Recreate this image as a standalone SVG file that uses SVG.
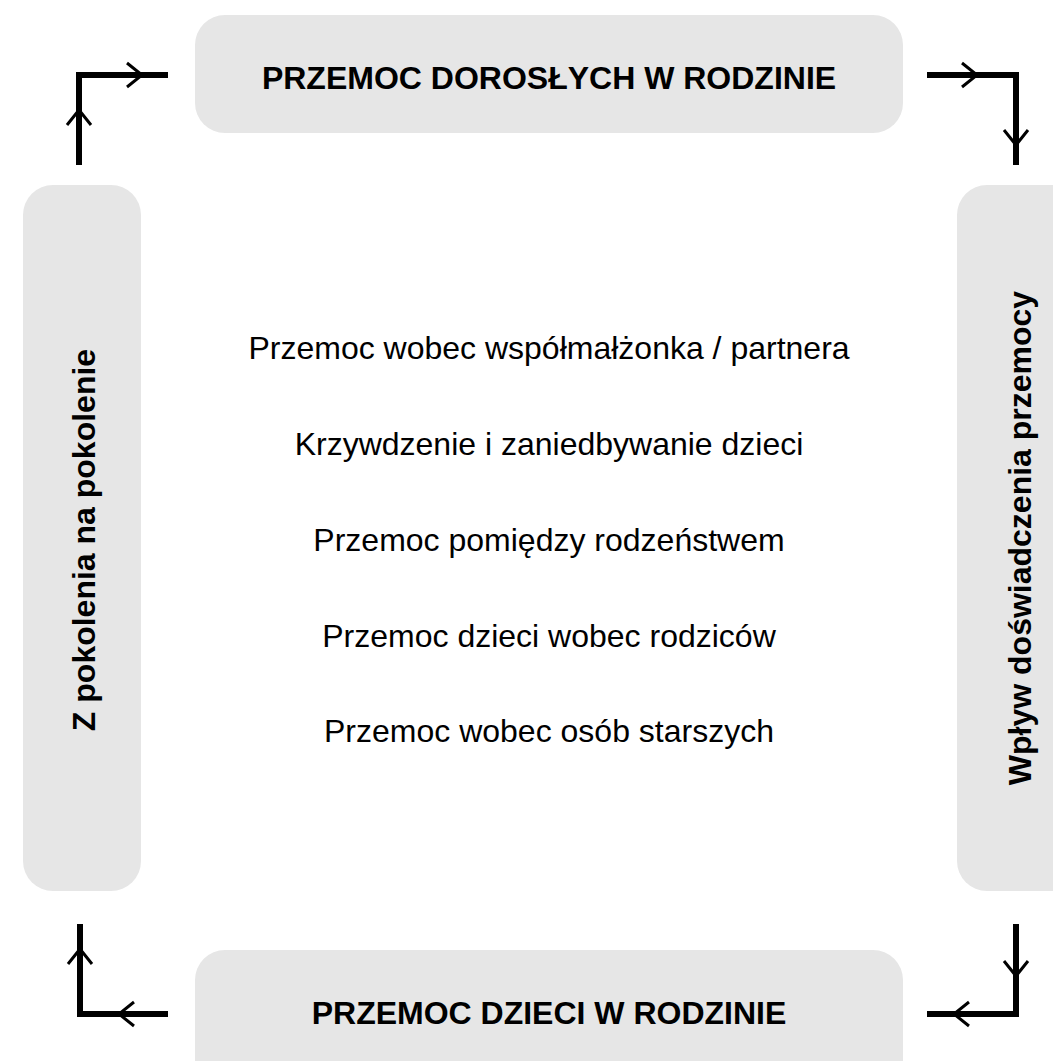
<svg xmlns="http://www.w3.org/2000/svg" width="1053" height="1061" viewBox="0 0 1053 1061">
<style>
.box{fill:#e6e6e6}
.t{font-family:"Liberation Sans",Arial,sans-serif;font-size:32px;fill:#000;text-anchor:middle}
.b{font-weight:bold}
.line{fill:none;stroke:#000;stroke-width:6;stroke-linecap:butt;stroke-linejoin:miter}
.chev{fill:none;stroke:#000;stroke-width:3}
</style>
<rect width="1053" height="1061" fill="#fff"/>
<g id="node-top"><rect class="box" x="195" y="15" width="708" height="118" rx="30"/><text class="t b" x="549" y="89">PRZEMOC DOROSŁYCH W RODZINIE</text></g>
<g id="node-bottom"><rect class="box" x="195" y="950" width="708" height="140" rx="30"/><text class="t b" x="549" y="1024">PRZEMOC DZIECI W RODZINIE</text></g>
<g id="node-left"><rect class="box" x="23" y="185" width="118" height="706" rx="30"/><text class="t b" transform="translate(95,540) rotate(-90)">Z pokolenia na pokolenie</text></g>
<g id="node-right"><rect class="box" x="957" y="185" width="130" height="706" rx="30"/><text class="t b" transform="translate(1031,538) rotate(-90)">Wpływ doświadczenia przemocy</text></g>
<g id="node-center">
<text class="t" x="549" y="359">Przemoc wobec współmałżonka / partnera</text>
<text class="t" x="549" y="455">Krzywdzenie i zaniedbywanie dzieci</text>
<text class="t" x="549" y="551">Przemoc pomiędzy rodzeństwem</text>
<text class="t" x="549" y="647">Przemoc dzieci wobec rodziców</text>
<text class="t" x="549" y="742">Przemoc wobec osób starszych</text>
</g>
<g id="connectors">
<path class="line" d="M79,165 V75 H168"/>
<path class="chev" d="M127,63 L142,75 L127,87"/>
<path class="chev" d="M67,125 L79,110 L91,125"/>
<path class="line" d="M927,75 H1016 V165"/>
<path class="chev" d="M962,63 L977,75 L962,87"/>
<path class="chev" d="M1004,130 L1016,145 L1028,130"/>
<path class="line" d="M80,924 V1014 H168"/>
<path class="chev" d="M68,964 L80,949 L92,964"/>
<path class="chev" d="M134,1002 L119,1014 L134,1026"/>
<path class="line" d="M1016,924 V1014 H927"/>
<path class="chev" d="M1004,961 L1016,976 L1028,961"/>
<path class="chev" d="M969,1002 L954,1014 L969,1026"/>
</g>
</svg>
